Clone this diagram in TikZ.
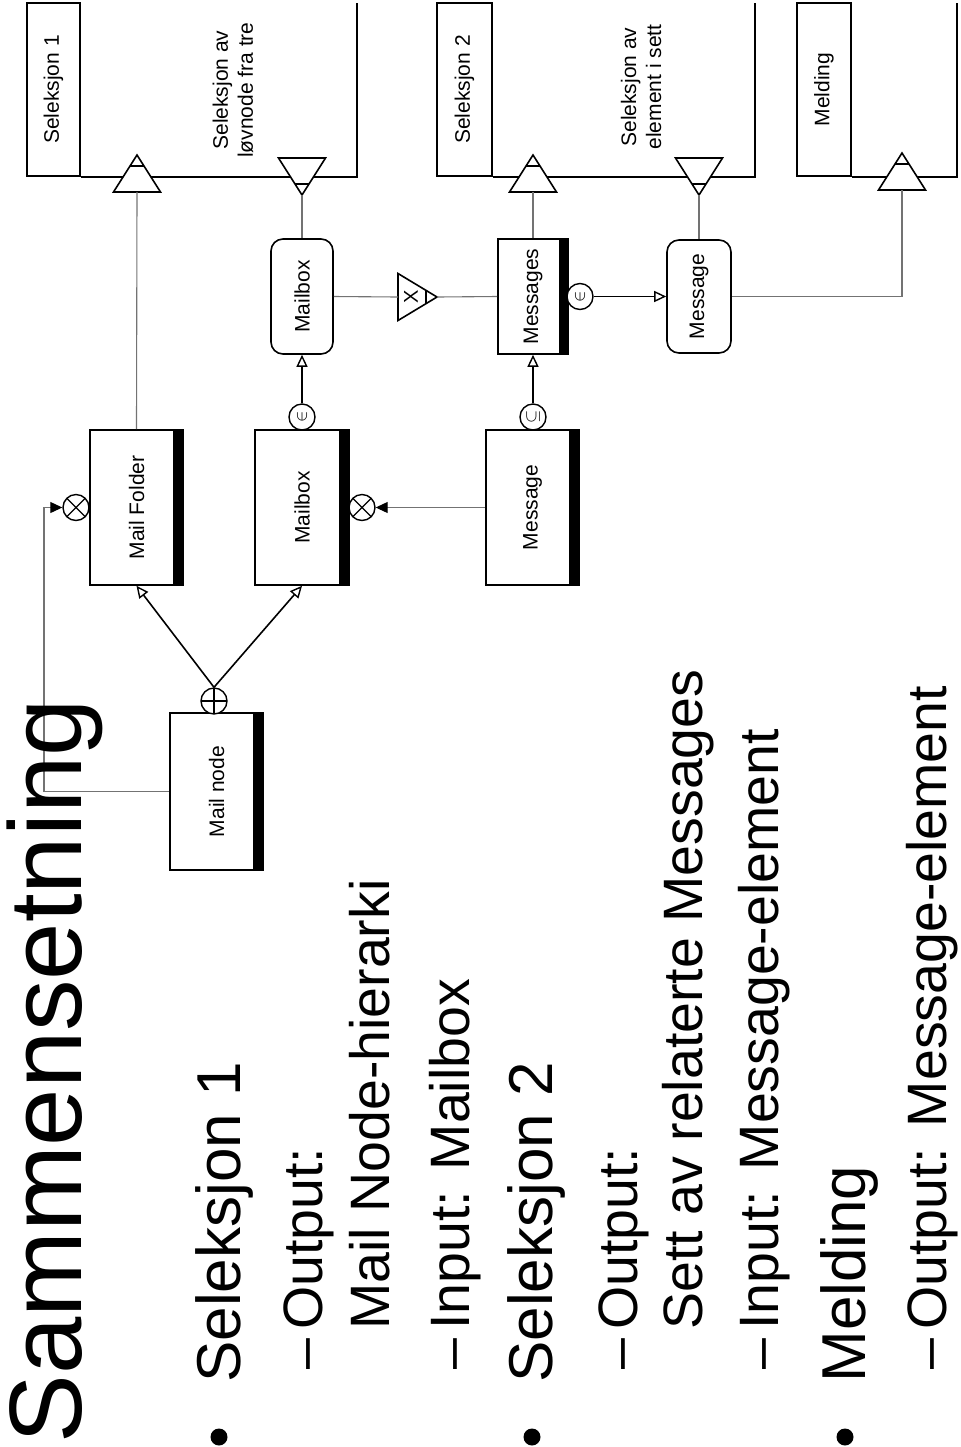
\documentclass[tikz,border=0pt]{standalone}
\usepackage{fontspec}
\setmainfont{Liberation Sans}
\usetikzlibrary{arrows.meta}
\begin{document}
\begin{tikzpicture}[x=0.5pt,y=-0.5pt,
  lbl/.style={font=\fontsize{10.5}{12.5}\selectfont, align=center},
  boxn/.style={draw, line width=0.8pt, rectangle, inner sep=0pt, fill=white, lbl},
  rbox/.style={boxn, rounded corners=6pt},
  fbox/.style={draw, line width=1.1pt, rectangle, inner sep=0pt, lbl},
  framelin/.style={line width=1.1pt},
  graylin/.style={draw=black!55, line width=0.55pt},
  blklin/.style={line width=0.8pt},
  sym/.style={circle, draw, line width=0.7pt, fill=white, minimum size=13pt, inner sep=0pt, font=\fontsize{8.5}{8.5}\selectfont},
  otim/.style={sym, path picture={\draw[line width=0.6pt] (path picture bounding box.north west) -- (path picture bounding box.south east) (path picture bounding box.north east) -- (path picture bounding box.south west);}},
  opl/.style={sym, path picture={\draw[line width=0.6pt] (path picture bounding box.north) -- (path picture bounding box.south) (path picture bounding box.east) -- (path picture bounding box.west);}},
  openarr/.style={-{Triangle[open, length=6pt, width=5.5pt, line width=0.7pt]}},
  fillarr/.style={-{Triangle[length=6pt, width=5.5pt, color=black]}},
  t0/.style={font=\fontsize{51.5}{52}\selectfont, rotate=90, anchor=base west, inner sep=0pt},
  t1/.style={font=\fontsize{31}{31}\selectfont, rotate=90, anchor=base west, inner sep=0pt},
  t2/.style={font=\fontsize{27.75}{28}\selectfont, rotate=90, anchor=base west, inner sep=0pt},
  dotb/.style={circle, fill, inner sep=0pt, minimum size=8.5pt},
  uptri/.pic={\draw[line width=0.8pt, fill=white] (-23.5,0) -- (23.5,0) -- (0,-37) -- cycle; \draw[line width=0.8pt] (-7,-26) -- (7,-26);},
  dntri/.pic={\draw[line width=0.8pt, fill=white] (-23.5,-37) -- (23.5,-37) -- (0,0) -- cycle; \draw[line width=0.8pt] (-7,-11) -- (7,-11);},
]
\useasboundingbox (0,0) rectangle (960,1447);

% ---------- frames ----------
\node[fbox, minimum width=26.5pt, minimum height=86.5pt] (sel1) at (53.5,89.5) {\rotatebox{90}{Seleksjon 1}};
\coordinate (f1top) at (357,3);
\draw[framelin] (sel1.south east) -| (f1top);
\node[lbl, rotate=90] (sel1txt) at (233,90) {Seleksjon av\\løvnode fra tre};

\node[fbox, minimum width=27.5pt, minimum height=86.5pt] (sel2) at (464.5,89.5) {\rotatebox{90}{Seleksjon 2}};
\coordinate (f2top) at (755,3);
\draw[framelin] (sel2.south east) -| (f2top);
\node[lbl, rotate=90] (sel2txt) at (641,87) {Seleksjon av\\element i sett};

\node[fbox, minimum width=27pt, minimum height=86.5pt] (meld) at (824,89.5) {\rotatebox{90}{Melding}};
\coordinate (f3top) at (957,3);
\draw[framelin] (meld.south east) -| (f3top);

% ---------- frame triangles ----------
\coordinate (up1) at (137,192);
\coordinate (dn1) at (302,195);
\coordinate (up2) at (533,192);
\coordinate (dn2) at (699,195);
\coordinate (up3) at (902,190);
\pic at (up1) {uptri};
\pic at (dn1) {dntri};
\pic at (up2) {uptri};
\pic at (dn2) {dntri};
\pic at (up3) {uptri};

% ---------- boxes ----------
\node[boxn, minimum width=46.5pt, minimum height=78.5pt] (mailnode) at (216.5,791.5) {\rotatebox{90}{Mail node}};
\fill (mailnode.north east) rectangle ([xshift=-5.25pt]mailnode.south east);
\node[boxn, minimum width=46.5pt, minimum height=77.5pt] (mailfolder) at (136.5,507.5) {\rotatebox{90}{Mail Folder}};
\fill (mailfolder.north east) rectangle ([xshift=-5.25pt]mailfolder.south east);
\node[boxn, minimum width=47pt, minimum height=77.5pt] (mailboxA) at (302,507.5) {\rotatebox{90}{Mailbox}};
\fill (mailboxA.north east) rectangle ([xshift=-5.25pt]mailboxA.south east);
\node[boxn, minimum width=46.5pt, minimum height=77.5pt] (messageA) at (532.5,507.5) {\rotatebox{90}{Message}};
\fill (messageA.north east) rectangle ([xshift=-5.25pt]messageA.south east);
\node[rbox, minimum width=31pt, minimum height=57.5pt] (mailboxB) at (302,296.5) {\rotatebox{90}{Mailbox}};
\node[boxn, minimum width=35pt, minimum height=57.5pt] (messagesB) at (533,296.5) {\rotatebox{90}{Messages}};
\fill (messagesB.north east) rectangle ([xshift=-5pt]messagesB.south east);
\node[rbox, minimum width=32pt, minimum height=56.5pt] (messageB) at (699,296.5) {\rotatebox{90}{Message}};

% ---------- X triangle ----------
\coordinate (xl) at (398,297);
\coordinate (xr) at (437,297);
\draw[line width=0.8pt, fill=white] ([yshift=11.75pt]xl) -- (xr) -- ([yshift=-11.75pt]xl) -- cycle;
\draw[line width=0.7pt] (426,290.5) -- (426,303.5);
\node[font=\fontsize{10}{10}\selectfont, rotate=90, inner sep=0pt] (xlab) at (411,297) {X};

% ---------- symbol circles ----------
\node[otim] (ot1) at (76,507.5) {};
\node[otim] (ot2) at (362,507.5) {};
\node[opl] (oplus) at (214,701) {};
\node[sym] (in1) at (302,417) {\rotatebox{90}{$\in$}};
\node[sym] (sub1) at (533,417) {\rotatebox{90}{$\subseteq$}};
\node[sym] (in2) at (580,296.5) {\rotatebox{90}{$\in$}};

% ---------- connectors ----------
\draw[blklin, openarr] (oplus.north) -- (mailfolder.south);
\draw[blklin, openarr] (oplus.north) -- (mailboxA.south);
\coordinate (c1) at (44,791.5);
\draw[graylin, fillarr] (mailnode.west) -- (c1) |- (ot1.west);
\draw[graylin, fillarr] (messageA.west) -- (ot2.east);
\draw[blklin, openarr] (in1.north) -- (mailboxB.south);
\draw[blklin, openarr] (sub1.north) -- (messagesB.south);
\draw[blklin, openarr] (in2.east) -- (messageB.west);
\draw[graylin] (mailboxB.east) -- (xl);
\draw[graylin] (xr) -- (messagesB.west);
\draw[graylin] (mailfolder.north) -- (up1);
\draw[graylin] (mailboxB.north) -- (dn1);
\draw[graylin] (messagesB.north) -- (up2);
\draw[graylin] (messageB.north) -- (dn2);
\draw[graylin] (messageB.east) -| (up3);

% ---------- slide text ----------
\node[t0] (title) at (81,1444) {Sammensetning};
\node[dotb] (b1) at (219,1437) {};
\node[t1] (l1) at (240,1383) {Seleksjon 1};
\node[t2] (dash1) at (322,1370) {–};
\node[t2] (l2) at (322,1330) {Output:};
\node[t2] (l3) at (389,1330) {Mail Node-hierarki};
\node[t2] (dash2) at (469,1370) {–};
\node[t2] (l4) at (469,1330) {Input: Mailbox};
\node[dotb] (b2) at (532,1437) {};
\node[t1] (l5) at (552,1383) {Seleksjon 2};
\node[t2] (dash3) at (637,1370) {–};
\node[t2] (l6) at (637,1330) {Output:};
\node[t2] (l7) at (702,1330) {Sett av relaterte Messages};
\node[t2] (dash4) at (778,1370) {–};
\node[t2] (l8) at (778,1330) {Input: Message-element};
\node[dotb] (b3) at (845,1437) {};
\node[t1] (l9) at (865,1383) {Melding};
\node[t2] (dash5) at (946,1370) {–};
\node[t2] (l10) at (946,1330) {Output: Message-element};
\end{tikzpicture}
\end{document}
